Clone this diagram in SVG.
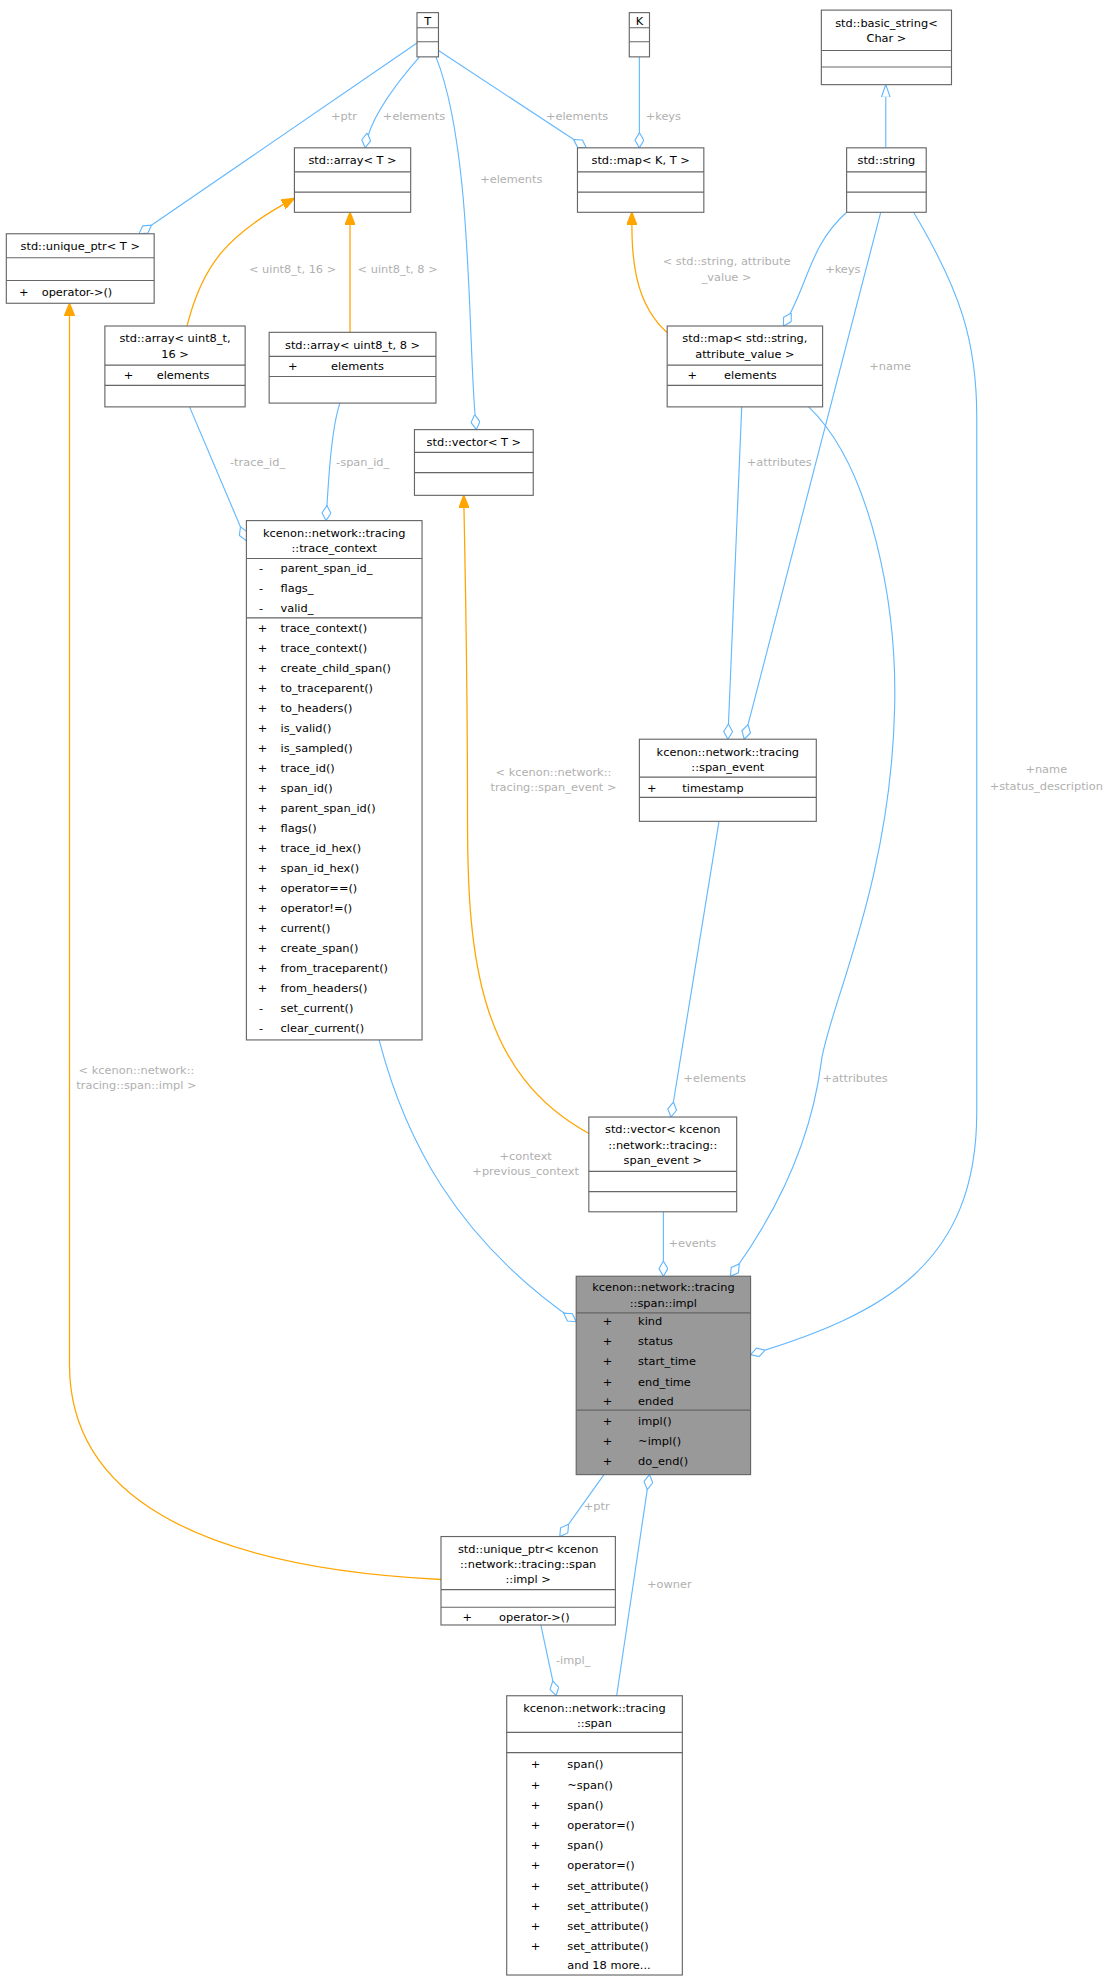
<svg xmlns="http://www.w3.org/2000/svg" width="1112" height="1980" viewBox="0 0 1112 1980">
<style>
.b{fill:#fff;stroke:#666;stroke-width:0.9}
.g{fill:#999;stroke:#666;stroke-width:0.9}
.l{stroke:#666;stroke-width:0.9}
text{font-family:"DejaVu Sans",sans-serif;font-size:9px;fill:#000}
.c{text-anchor:middle}
.lb{fill:#b0b0b0;font-size:9px}
.e{fill:none;stroke:#63b8ff;stroke-width:0.9}
.o{fill:none;stroke:#ffa500;stroke-width:1}
</style>
<defs>
<marker id="dm" viewBox="0 0 12 8" refX="12" refY="4" markerWidth="12" markerHeight="8" markerUnits="userSpaceOnUse" orient="auto"><path d="M0,4 L6,0.5 L12,4 L6,7.5 Z" fill="#fff" stroke="#63b8ff" stroke-width="0.9"/></marker>
<marker id="oa" viewBox="0 0 10 8" refX="10" refY="4" markerWidth="10" markerHeight="8" markerUnits="userSpaceOnUse" orient="auto"><path d="M0,0 L10,4 L0,8 Z" fill="#ffa500" stroke="#ffa500"/></marker>
<marker id="tr" viewBox="0 0 10 8" refX="10" refY="4" markerWidth="10" markerHeight="8" markerUnits="userSpaceOnUse" orient="auto"><path d="M0,0.5 L10,4 L0,7.5 Z" fill="#fff" stroke="#63b8ff" stroke-width="0.9"/></marker>
</defs>
<g transform="scale(1.2636)">
<g id="edges">
<path class="e" d="M330,34 L110,185" marker-end="url(#dm)"/>
<text class="lb" x="262" y="95">+ptr</text>
<path class="e" d="M332,45 C310,70 292,95 289,117" marker-end="url(#dm)"/>
<text class="lb" x="303" y="95">+elements</text>
<path class="e" d="M345,45 C375,120 370,280 377,340" marker-end="url(#dm)"/>
<text class="lb" x="380" y="145">+elements</text>
<path class="e" d="M347,40 L464,117" marker-end="url(#dm)"/>
<text class="lb" x="432" y="95">+elements</text>
<path class="e" d="M506,45 L506,117" marker-end="url(#dm)"/>
<text class="lb" x="511" y="95">+keys</text>
<path class="e" d="M701,117 L701,67" marker-end="url(#tr)"/>
<path class="o" d="M148,258 C160,210 180,185 233,157" marker-end="url(#oa)"/>
<text class="lb" x="197" y="216">&lt; uint8_t, 16 &gt;</text>
<path class="o" d="M277,263 L277,168" marker-end="url(#oa)"/>
<text class="lb" x="283" y="216">&lt; uint8_t, 8 &gt;</text>
<path class="o" d="M530,265 C500,240 500,200 500,168" marker-end="url(#oa)"/>
<text class="lb c" x="575" y="210">&lt; std::string, attribute</text>
<text class="lb c" x="575" y="222">_value &gt;</text>
<path class="e" d="M670,168 C640,195 640,225 620,258" marker-end="url(#dm)"/>
<text class="lb" x="653" y="216">+keys</text>
<path class="e" d="M697,168 L589,585" marker-end="url(#dm)"/>
<text class="lb" x="688" y="293">+name</text>
<path class="e" d="M723,168 C760,230 773,270 773,330 L773,880 C773,1000 700,1040 594,1072" marker-end="url(#dm)"/>
<text class="lb c" x="828" y="612">+name</text>
<text class="lb c" x="828" y="625">+status_description</text>
<path class="e" d="M150,322 L195,428" marker-end="url(#dm)"/>
<text class="lb" x="182" y="369">-trace_id_</text>
<path class="e" d="M269,319 C262,340 260,380 258,412" marker-end="url(#dm)"/>
<text class="lb" x="266" y="369">-span_id_</text>
<path class="e" d="M587,322 L576,585" marker-end="url(#dm)"/>
<text class="lb" x="591" y="369">+attributes</text>
<path class="e" d="M640,322 C690,370 710,480 708,560 C705,700 655,800 650,840 C640,920 600,980 578,1010" marker-end="url(#dm)"/>
<text class="lb" x="651" y="856">+attributes</text>
<path class="o" d="M466,897 C380,850 370,760 370,650 C370,520 368,450 367,392" marker-end="url(#oa)"/>
<text class="lb c" x="438" y="614">&lt; kcenon::network::</text>
<text class="lb c" x="438" y="626">tracing::span_event &gt;</text>
<path class="e" d="M569,650 L531,884" marker-end="url(#dm)"/>
<text class="lb" x="541" y="856">+elements</text>
<path class="e" d="M300,823 C320,900 360,980 456,1046" marker-end="url(#dm)"/>
<text class="lb c" x="416" y="918">+context</text>
<text class="lb c" x="416" y="930">+previous_context</text>
<path class="e" d="M525,959 L525,1010" marker-end="url(#dm)"/>
<text class="lb" x="529" y="987">+events</text>
<path class="e" d="M478,1167 L443,1216" marker-end="url(#dm)"/>
<text class="lb" x="462" y="1195">+ptr</text>
<path class="o" d="M349,1250 C150,1240 55,1180 55,1080 L55,240" marker-end="url(#oa)"/>
<text class="lb c" x="108" y="850">&lt; kcenon::network::</text>
<text class="lb c" x="108" y="862">tracing::span::impl &gt;</text>
<path class="e" d="M428,1286 L440,1342" marker-end="url(#dm)"/>
<text class="lb" x="440" y="1317">-impl_</text>
<path class="e" d="M488,1342 L514,1167" marker-end="url(#dm)"/>
<text class="lb" x="512" y="1257">+owner</text>
</g>

<g id="T"><rect class="b" x="330" y="10" width="17" height="35"/><path class="l" d="M330,22H347M330,33H347"/><text class="c" x="338.5" y="19.5">T</text></g>
<g id="K"><rect class="b" x="498" y="10" width="16" height="35"/><path class="l" d="M498,22H514M498,33H514"/><text class="c" x="506" y="19.5">K</text></g>
<g id="basic_string"><rect class="b" x="650" y="8" width="103" height="59"/><path class="l" d="M650,40H753M650,53H753"/><text class="c" x="701.5" y="21">std::basic_string&lt;</text><text class="c" x="701.5" y="33">Char &gt;</text></g>
<g id="string"><rect class="b" x="670" y="117" width="63" height="51"/><path class="l" d="M670,136H733M670,152H733"/><text class="c" x="701.5" y="130">std::string</text></g>
<g id="arrayT"><rect class="b" x="233" y="117" width="92" height="51"/><path class="l" d="M233,136H325M233,152H325"/><text class="c" x="279" y="130">std::array&lt; T &gt;</text></g>
<g id="mapKT"><rect class="b" x="457" y="117" width="100" height="51"/><path class="l" d="M457,136H557M457,152H557"/><text class="c" x="507" y="130">std::map&lt; K, T &gt;</text></g>
<g id="uptrT"><rect class="b" x="5" y="185" width="117" height="55"/><path class="l" d="M5,204H122M5,222H122"/><text class="c" x="63.5" y="198">std::unique_ptr&lt; T &gt;</text><text x="15" y="234">+</text><text x="33" y="234">operator-&gt;()</text></g>
<g id="array16"><rect class="b" x="83" y="258" width="111" height="64"/><path class="l" d="M83,289H194M83,305H194"/><text class="c" x="138.5" y="271">std::array&lt; uint8_t,</text><text class="c" x="138.5" y="283">16 &gt;</text><text x="98" y="300">+</text><text x="124" y="300">elements</text></g>
<g id="array8"><rect class="b" x="213" y="263" width="132" height="56"/><path class="l" d="M213,282H345M213,298H345"/><text class="c" x="279" y="276">std::array&lt; uint8_t, 8 &gt;</text><text x="228" y="293">+</text><text x="262" y="293">elements</text></g>
<g id="mapStr"><rect class="b" x="528" y="258" width="123" height="64"/><path class="l" d="M528,289H651M528,305H651"/><text class="c" x="589.5" y="271">std::map&lt; std::string,</text><text class="c" x="589.5" y="283">attribute_value &gt;</text><text x="544" y="300">+</text><text x="573" y="300">elements</text></g>
<g id="vectorT"><rect class="b" x="328" y="340" width="94" height="52"/><path class="l" d="M328,358H422M328,374H422"/><text class="c" x="375" y="353">std::vector&lt; T &gt;</text></g>
<g id="trace_context"><rect class="b" x="195" y="412" width="139" height="411"/><path class="l" d="M195,442H334M195,489H334"/>
<text class="c" x="264.5" y="425">kcenon::network::tracing</text><text class="c" x="264.5" y="437">::trace_context</text>
<g transform="translate(0,3.5)">
<text x="205" y="449">-</text><text x="222" y="449">parent_span_id_</text>
<text x="205" y="465">-</text><text x="222" y="465">flags_</text>
<text x="205" y="481">-</text><text x="222" y="481">valid_</text>
<text x="204" y="497">+</text><text x="222" y="497">trace_context()</text>
<text x="204" y="512.8">+</text><text x="222" y="512.8">trace_context()</text>
<text x="204" y="528.6">+</text><text x="222" y="528.6">create_child_span()</text>
<text x="204" y="544.4">+</text><text x="222" y="544.4">to_traceparent()</text>
<text x="204" y="560.2">+</text><text x="222" y="560.2">to_headers()</text>
<text x="204" y="576">+</text><text x="222" y="576">is_valid()</text>
<text x="204" y="591.8">+</text><text x="222" y="591.8">is_sampled()</text>
<text x="204" y="607.6">+</text><text x="222" y="607.6">trace_id()</text>
<text x="204" y="623.4">+</text><text x="222" y="623.4">span_id()</text>
<text x="204" y="639.2">+</text><text x="222" y="639.2">parent_span_id()</text>
<text x="204" y="655">+</text><text x="222" y="655">flags()</text>
<text x="204" y="670.8">+</text><text x="222" y="670.8">trace_id_hex()</text>
<text x="204" y="686.6">+</text><text x="222" y="686.6">span_id_hex()</text>
<text x="204" y="702.4">+</text><text x="222" y="702.4">operator==()</text>
<text x="204" y="718.2">+</text><text x="222" y="718.2">operator!=()</text>
<text x="204" y="734">+</text><text x="222" y="734">current()</text>
<text x="204" y="749.8">+</text><text x="222" y="749.8">create_span()</text>
<text x="204" y="765.6">+</text><text x="222" y="765.6">from_traceparent()</text>
<text x="204" y="781.4">+</text><text x="222" y="781.4">from_headers()</text>
<text x="205" y="797.2">-</text><text x="222" y="797.2">set_current()</text>
<text x="205" y="813">-</text><text x="222" y="813">clear_current()</text>
</g></g>
<g id="span_event"><rect class="b" x="506" y="585" width="140" height="65"/><path class="l" d="M506,615H646M506,631H646"/><text class="c" x="576" y="598">kcenon::network::tracing</text><text class="c" x="576" y="610">::span_event</text><text x="512" y="626.5">+</text><text x="540" y="626.5">timestamp</text></g>
<g id="vector_span_event"><rect class="b" x="466" y="884" width="117" height="75"/><path class="l" d="M466,927H583M466,943H583"/><text class="c" x="524.5" y="897">std::vector&lt; kcenon</text><text class="c" x="524.5" y="909">::network::tracing::</text><text class="c" x="524.5" y="921">span_event &gt;</text></g>
<g id="span_impl"><rect class="g" x="456" y="1010" width="138" height="157"/><path class="l" d="M456,1039H594M456,1116H594"/><text class="c" x="525" y="1022">kcenon::network::tracing</text><text class="c" x="525" y="1034">::span::impl</text>
<g transform="translate(0,3.5)">
<text x="477" y="1045">+</text><text x="505" y="1045">kind</text>
<text x="477" y="1061">+</text><text x="505" y="1061">status</text>
<text x="477" y="1077">+</text><text x="505" y="1077">start_time</text>
<text x="477" y="1093">+</text><text x="505" y="1093">end_time</text>
<text x="477" y="1108.5">+</text><text x="505" y="1108.5">ended</text>
<text x="477" y="1124">+</text><text x="505" y="1124">impl()</text>
<text x="477" y="1140">+</text><text x="505" y="1140">~impl()</text>
<text x="477" y="1156">+</text><text x="505" y="1156">do_end()</text>
</g></g>
<g id="uptr_impl"><rect class="b" x="349" y="1216" width="138" height="70"/><path class="l" d="M349,1258H487M349,1272H487"/><text class="c" x="418" y="1229">std::unique_ptr&lt; kcenon</text><text class="c" x="418" y="1241">::network::tracing::span</text><text class="c" x="418" y="1253">::impl &gt;</text><text x="366" y="1283">+</text><text x="395" y="1283">operator-&gt;()</text></g>
<g id="span"><rect class="b" x="401" y="1342" width="139" height="221"/><path class="l" d="M401,1371H540M401,1387H540"/><text class="c" x="470.5" y="1355">kcenon::network::tracing</text><text class="c" x="470.5" y="1367">::span</text>
<g transform="translate(0,3.5)">
<text x="420" y="1396">+</text><text x="449" y="1396">span()</text>
<text x="420" y="1412">+</text><text x="449" y="1412">~span()</text>
<text x="420" y="1428">+</text><text x="449" y="1428">span()</text>
<text x="420" y="1444">+</text><text x="449" y="1444">operator=()</text>
<text x="420" y="1460">+</text><text x="449" y="1460">span()</text>
<text x="420" y="1476">+</text><text x="449" y="1476">operator=()</text>
<text x="420" y="1492">+</text><text x="449" y="1492">set_attribute()</text>
<text x="420" y="1508">+</text><text x="449" y="1508">set_attribute()</text>
<text x="420" y="1524">+</text><text x="449" y="1524">set_attribute()</text>
<text x="420" y="1540">+</text><text x="449" y="1540">set_attribute()</text>
<text x="449" y="1555">and 18 more...</text>
</g></g>
</g>
</svg>
